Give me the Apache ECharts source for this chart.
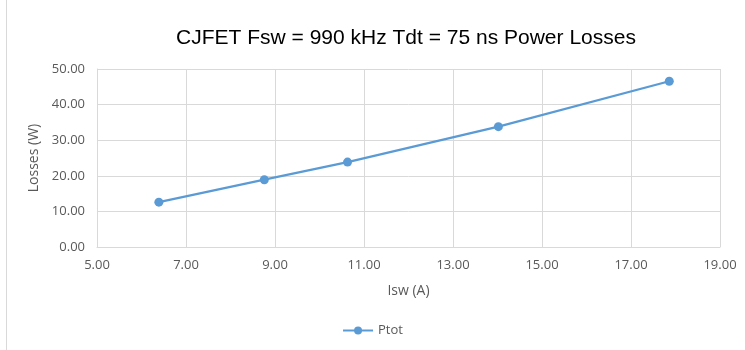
<!DOCTYPE html>
<html><head><meta charset="utf-8">
<script src="https://cdn.jsdelivr.net/npm/echarts@6/dist/echarts.min.js"></script>
<style>html,body{margin:0;padding:0;background:#fff}#c{width:745px;height:350px}</style>
</head><body><div id="c"></div>
<script>
const seriesName = 'Ptot';
const iswValues = [6.39, 8.76, 10.63, 14.02, 17.86];
const lossValues = [12.6, 18.9, 23.85, 33.8, 46.55];

const chart = echarts.init(document.getElementById('c'), null, {renderer: 'canvas'});
const labelFont = {color: '#595959', fontSize: 13, fontFamily: 'Open Sans'};
chart.setOption({
  animation: false,
  backgroundColor: '#fff',
  title: {
    text: 'CJFET Fsw = 990 kHz Tdt = 75 ns Power Losses',
    left: 401, top: 23, textAlign: 'center',
    textStyle: {fontFamily: 'Liberation Sans', fontSize: 21, fontWeight: 'normal', color: '#000'}
  },
  graphic: [{type: 'line', shape: {x1: 6.5, y1: 0, x2: 6.5, y2: 350}, style: {stroke: '#d9d9d9', lineWidth: 1}}],
  grid: {left: 97, right: 25, top: 69, bottom: 103},
  legend: {
    bottom: 8, left: 'center',
    itemWidth: 30, itemHeight: 10,
    textStyle: {color: '#595959', fontSize: 13, fontFamily: 'Open Sans'},
    data: [seriesName]
  },
  xAxis: {
    type: 'value', min: 5, max: 19, interval: 2,
    name: 'Isw (A)', nameLocation: 'middle', nameGap: 37,
    nameTextStyle: {color: '#595959', fontSize: 14, fontFamily: 'Open Sans'},
    axisLine: {show: true, lineStyle: {color: '#d9d9d9'}},
    axisTick: {show: false},
    axisLabel: Object.assign({formatter: v => v.toFixed(2), margin: 12}, labelFont),
    splitLine: {show: true, lineStyle: {color: '#d9d9d9'}}
  },
  yAxis: {
    type: 'value', min: 0, max: 50, interval: 10,
    name: 'Losses (W)', nameLocation: 'middle', nameGap: 55,
    nameTextStyle: {color: '#595959', fontSize: 14, fontFamily: 'Open Sans'},
    axisLine: {show: true, lineStyle: {color: '#d9d9d9'}},
    axisTick: {show: false},
    axisLabel: Object.assign({formatter: v => v.toFixed(2), margin: 12}, labelFont),
    splitLine: {show: true, lineStyle: {color: '#d9d9d9'}}
  },
  series: [{
    name: seriesName, type: 'line',
    data: iswValues.map((x, i) => [x, lossValues[i]]),
    symbol: 'circle', symbolSize: 9,
    lineStyle: {color: '#5b9bd5', width: 2.25},
    itemStyle: {color: '#5b9bd5'}
  }]
});
</script></body></html>
